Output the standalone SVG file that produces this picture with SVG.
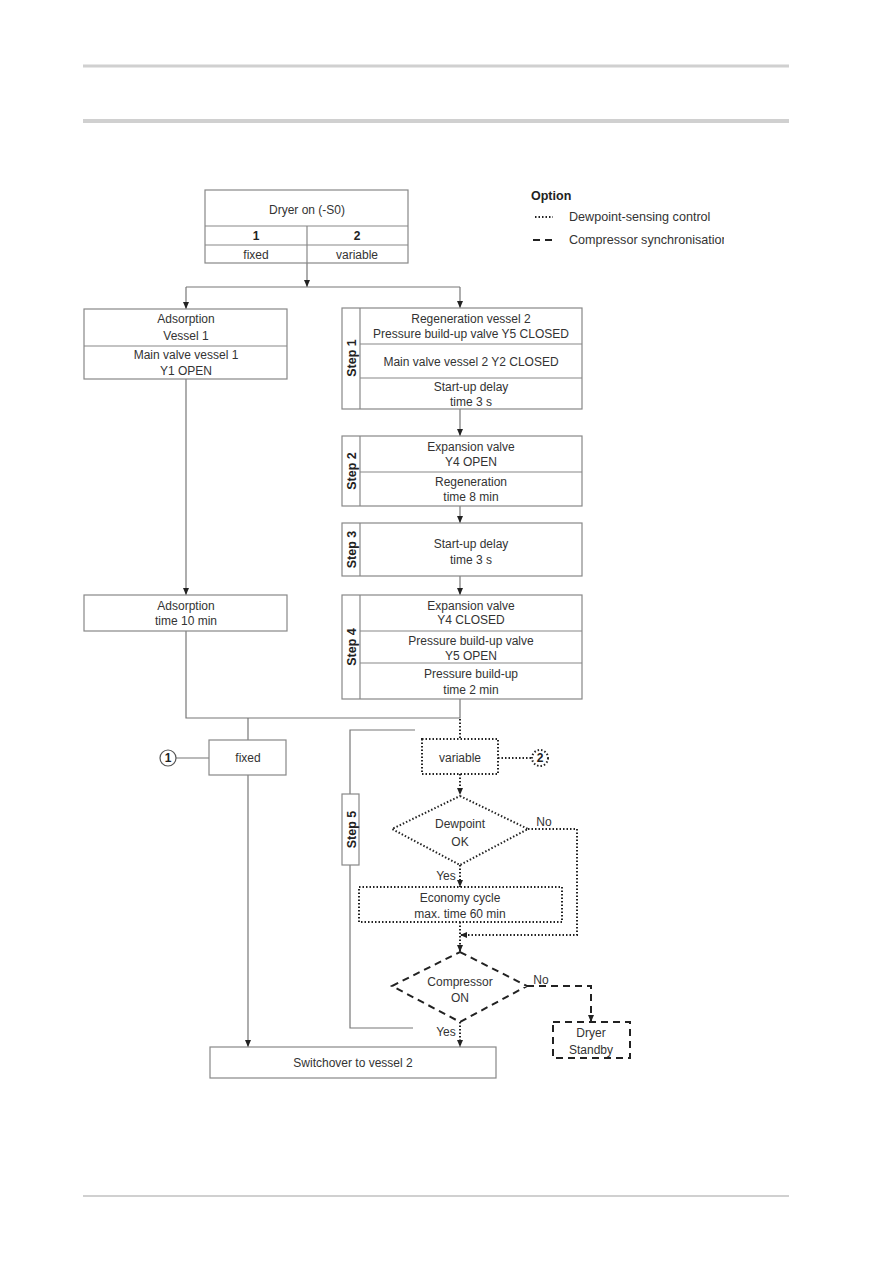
<svg xmlns="http://www.w3.org/2000/svg" width="893" height="1263" viewBox="0 0 893 1263">
<defs>
<marker id="ah" markerWidth="7" markerHeight="7" refX="7" refY="3.5" orient="auto" markerUnits="userSpaceOnUse"><path d="M0,0.5 L7,3.5 L0,6.5 z" fill="#222"/></marker>
<clipPath id="legclip"><rect x="560" y="228" width="164" height="20"/></clipPath>
</defs>
<style>
text{font-family:"Liberation Sans",Arial,sans-serif;font-size:12px;fill:#333;text-anchor:middle}
.b{font-weight:bold;fill:#222}
.st{font-weight:bold;fill:#222;font-size:12.5px}
.lg{font-size:12.6px;text-anchor:start}
.box{fill:#fff;stroke:#888;stroke-width:1.2}
.div{stroke:#888;stroke-width:1.2;fill:none}
.ln{stroke:#777;stroke-width:1.2;fill:none}
.dot{stroke:#222;stroke-width:2;stroke-dasharray:1.5 2;fill:none}
.dash{stroke:#222;stroke-width:2;stroke-dasharray:7 5;fill:none}
.hdr{stroke:#d0d0d0}
</style>
<rect width="893" height="1263" fill="#fff"/>
<g id="page">
<line class="hdr" x1="83" y1="66" x2="789" y2="66" stroke-width="3"/>
<line class="hdr" x1="83" y1="121" x2="789" y2="121" stroke-width="4"/>
<line class="hdr" x1="83" y1="1196" x2="789" y2="1196" stroke-width="2"/>
</g>
<g id="legend">
<text x="531" y="200" class="b" style="text-anchor:start;font-size:12.5px">Option</text>
<line class="dot" x1="535" y1="217" x2="553" y2="217"/>
<text x="569" y="221" class="lg">Dewpoint-sensing control</text>
<line class="dash" x1="533" y1="240" x2="557" y2="240"/>
<text x="569" y="244" class="lg" clip-path="url(#legclip)">Compressor synchronisation</text>
</g>
<g id="connectors">
<line class="ln" x1="307" y1="263" x2="307" y2="287" marker-end="url(#ah)"/>
<line class="ln" x1="186" y1="287" x2="460" y2="287"/>
<line class="ln" x1="186" y1="287" x2="186" y2="309" marker-end="url(#ah)"/>
<line class="ln" x1="460" y1="287" x2="460" y2="308" marker-end="url(#ah)"/>
<line class="ln" x1="186" y1="379" x2="186" y2="595" marker-end="url(#ah)"/>
<line class="ln" x1="460" y1="409" x2="460" y2="436" marker-end="url(#ah)"/>
<line class="ln" x1="460" y1="506" x2="460" y2="523" marker-end="url(#ah)"/>
<line class="ln" x1="460" y1="576" x2="460" y2="595" marker-end="url(#ah)"/>
<polyline class="ln" points="186,631 186,718 460,718 460,699"/>
<line class="ln" x1="248" y1="718" x2="248" y2="740"/>
<line class="ln" x1="176" y1="758" x2="209" y2="758"/>
<line class="ln" x1="248" y1="775" x2="248" y2="1047" marker-end="url(#ah)"/>
<polyline class="ln" points="415,730 350,730 350,794"/>
<polyline class="ln" points="350,865 350,1028 413,1028"/>
<line class="dot" x1="460" y1="719" x2="460" y2="739"/>
<line class="dot" x1="498" y1="758" x2="532" y2="758"/>
<line class="dot" x1="460" y1="774" x2="460" y2="795" marker-end="url(#ah)"/>
<polyline class="dot" points="528,829 577,829 577,935 460,935" marker-end="url(#ah)"/>
<line class="dot" x1="460" y1="865" x2="460" y2="887" marker-end="url(#ah)"/>
<line class="dot" x1="460" y1="922" x2="460" y2="952" marker-end="url(#ah)"/>
<line class="dot" x1="460" y1="1022" x2="460" y2="1047" marker-end="url(#ah)"/>
<polyline class="dash" points="527,986 591,986 591,1022" marker-end="url(#ah)"/>
<text x="544" y="826">No</text>
<text x="446" y="880">Yes</text>
<text x="541" y="984">No</text>
<text x="446" y="1036">Yes</text>
</g>
<g id="dryer-on">
<rect class="box" x="205" y="190" width="203" height="73"/>
<line class="div" x1="205" y1="226" x2="408" y2="226"/>
<line class="div" x1="205" y1="245" x2="408" y2="245"/>
<line class="div" x1="307" y1="226" x2="307" y2="263"/>
<text x="307" y="214">Dryer on (-S0)</text>
<text x="256" y="240" class="b">1</text>
<text x="357" y="240" class="b">2</text>
<text x="256" y="259">fixed</text>
<text x="357" y="259">variable</text>
</g>
<g id="adsorption-vessel1">
<rect class="box" x="84" y="309" width="203" height="70"/>
<line class="div" x1="84" y1="346" x2="287" y2="346"/>
<text x="186" y="323">Adsorption</text>
<text x="186" y="340">Vessel 1</text>
<text x="186" y="359">Main valve vessel 1</text>
<text x="186" y="375">Y1 OPEN</text>
</g>
<g id="adsorption-time">
<rect class="box" x="84" y="595" width="203" height="36"/>
<text x="186" y="610">Adsorption</text>
<text x="186" y="625">time 10 min</text>
</g>
<g id="step1">
<rect class="box" x="342" y="308" width="240" height="101"/>
<line class="div" x1="360" y1="308" x2="360" y2="409"/>
<line class="div" x1="360" y1="344" x2="582" y2="344"/>
<line class="div" x1="360" y1="378" x2="582" y2="378"/>
<text class="st" transform="translate(356,358) rotate(-90)">Step 1</text>
<text x="471" y="323">Regeneration vessel 2</text>
<text x="471" y="338">Pressure build-up valve Y5 CLOSED</text>
<text x="471" y="366">Main valve vessel 2 Y2 CLOSED</text>
<text x="471" y="391">Start-up delay</text>
<text x="471" y="406">time 3 s</text>
</g>
<g id="step2">
<rect class="box" x="342" y="436" width="240" height="70"/>
<line class="div" x1="360" y1="436" x2="360" y2="506"/>
<line class="div" x1="360" y1="472" x2="582" y2="472"/>
<text class="st" transform="translate(356,471) rotate(-90)">Step 2</text>
<text x="471" y="451">Expansion valve</text>
<text x="471" y="466">Y4 OPEN</text>
<text x="471" y="486">Regeneration</text>
<text x="471" y="501">time 8 min</text>
</g>
<g id="step3">
<rect class="box" x="342" y="523" width="240" height="53"/>
<line class="div" x1="360" y1="523" x2="360" y2="576"/>
<text class="st" transform="translate(356,549.5) rotate(-90)">Step 3</text>
<text x="471" y="548">Start-up delay</text>
<text x="471" y="564">time 3 s</text>
</g>
<g id="step4">
<rect class="box" x="342" y="595" width="240" height="104"/>
<line class="div" x1="360" y1="595" x2="360" y2="699"/>
<line class="div" x1="360" y1="631" x2="582" y2="631"/>
<line class="div" x1="360" y1="663" x2="582" y2="663"/>
<text class="st" transform="translate(356,647) rotate(-90)">Step 4</text>
<text x="471" y="610">Expansion valve</text>
<text x="471" y="624">Y4 CLOSED</text>
<text x="471" y="645">Pressure build-up valve</text>
<text x="471" y="660">Y5 OPEN</text>
<text x="471" y="678">Pressure build-up</text>
<text x="471" y="694">time 2 min</text>
</g>
<g id="fixed">
<rect class="box" x="209" y="740" width="77" height="35"/>
<text x="248" y="762">fixed</text>
</g>
<g id="marker1">
<circle cx="168" cy="758" r="8" fill="#fff" stroke="#555" stroke-width="1.2"/>
<text x="168" y="762" class="b">1</text>
</g>
<g id="step5">
<rect class="box" x="342" y="794" width="17" height="71"/>
<text class="st" transform="translate(356,829.5) rotate(-90)">Step 5</text>
</g>
<g id="variable">
<rect class="dot" x="422" y="739" width="76" height="35" fill="#fff"/>
<text x="460" y="762">variable</text>
</g>
<g id="marker2">
<circle class="dot" cx="540" cy="758" r="8" fill="#fff"/>
<text x="540" y="762" class="b">2</text>
</g>
<g id="dewpoint">
<polygon class="dot" points="460,796 528,829 460,865 392,829" fill="#fff"/>
<text x="460" y="828">Dewpoint</text>
<text x="460" y="846">OK</text>
</g>
<g id="economy">
<rect class="dot" x="359" y="887" width="203" height="35" fill="#fff"/>
<text x="460" y="902">Economy cycle</text>
<text x="460" y="918">max. time 60 min</text>
</g>
<g id="compressor">
<polygon class="dash" points="460,952 527,986 460,1022 392,986" fill="#fff"/>
<text x="460" y="986">Compressor</text>
<text x="460" y="1002">ON</text>
</g>
<g id="standby">
<rect class="dash" x="553" y="1022" width="77" height="36" fill="#fff"/>
<text x="591" y="1037">Dryer</text>
<text x="591" y="1054">Standby</text>
</g>
<g id="switchover">
<rect class="box" x="210" y="1047" width="286" height="31"/>
<text x="353" y="1067">Switchover to vessel 2</text>
</g>
</svg>
